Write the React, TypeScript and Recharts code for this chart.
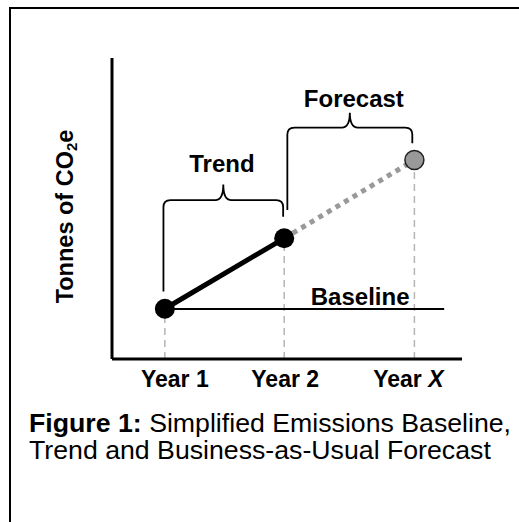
import {
  ComposedChart,
  Line,
  XAxis,
  YAxis,
  Scatter,
  ReferenceArea,
  ReferenceDot,
} from 'recharts';

// x positions of the three years and emissions level at each (0-100 schematic scale)
const years = ['Year 1', 'Year 2', 'Year X'];
const yearPos = [15.1, 49.2, 86.4];
const emissions = [16.7, 40.1, 66.1];
const baselineLevel = 16.6;
const baselineEnd = 94.9;

const braces = [
  { name: 'Trend', from: 14.7, to: 48.9, bar: 52.8, tip: 58.0, leftLeg: 22.4, rightLeg: 47.3 },
  { name: 'Forecast', from: 50.1, to: 85.8, bar: 76.9, tip: 81.8, leftLeg: 49.5, rightLeg: 71.7 },
];

const notes = [
  { text: 'Trend', x: 31.4, y: 62.1 },
  { text: 'Forecast', x: 69.1, y: 83.7 },
  { text: 'Baseline', x: 70.9, y: 17.9 },
];

const captionLines = ['Simplified Emissions Baseline,', 'Trend and Business-as-Usual Forecast'];

const points = years.map((name, i) => ({ name, x: yearPos[i], y: emissions[i], projected: i === 2 }));
const trendData = points.slice(0, 2);
const forecastData = points.slice(1, 3);
const baselineData = [
  { x: yearPos[0], y: baselineLevel },
  { x: baselineEnd, y: baselineLevel },
];
const guides = points.map((p) => [
  { x: p.x, y: 0 },
  { x: p.x, y: p.y },
]);

const FONT = '"Liberation Sans", Arial, sans-serif';
const tickNudge = [10, 1, -6];

function YearTick(props: any) {
  const { x, y, index } = props;
  const label = years[index] ?? '';
  const isX = label.endsWith('X');
  return (
    <text
      x={x + (tickNudge[index] ?? 0)}
      y={y + 20}
      textAnchor="middle"
      fontFamily={FONT}
      fontWeight="bold"
      fontSize={23}
      fill="#000"
    >
      {isX ? (
        <>
          <tspan>Year </tspan>
          <tspan fontStyle="italic">X</tspan>
        </>
      ) : (
        label
      )}
    </text>
  );
}

function YLabel(props: any) {
  const { viewBox } = props;
  const cx = viewBox.x + 21;
  const cy = viewBox.y + viewBox.height / 2 + 8;
  return (
    <text
      x={cx}
      y={cy}
      transform={`rotate(-90 ${cx} ${cy})`}
      textAnchor="middle"
      fontFamily={FONT}
      fontWeight="bold"
      fontSize={23.5}
      fill="#000"
    >
      <tspan>Tonnes of CO</tspan>
      <tspan fontSize={15} dy={4}>2</tspan>
      <tspan dy={-4}>e</tspan>
    </text>
  );
}

function braceShape(b: (typeof braces)[number]) {
  return (p: any) => {
    const { x, y, width, height } = p;
    const k = height / (b.tip - b.bar);
    const L = x;
    const R = x + width;
    const T = y + height;
    const P = y;
    const M = (L + R) / 2;
    const yl = T + (b.bar - b.leftLeg) * k;
    const yr = T + (b.bar - b.rightLeg) * k;
    const r = 7;
    const d = `M ${L} ${yl} L ${L} ${T + r} Q ${L} ${T} ${L + r} ${T} L ${M - 8} ${T} Q ${M} ${T} ${M} ${P} Q ${M} ${T} ${M + 8} ${T} L ${R - r} ${T} Q ${R} ${T} ${R} ${T + r} L ${R} ${yr}`;
    return <path d={d} fill="none" stroke="#000" strokeWidth={1.8} />;
  };
}

function noteShape(text: string) {
  return (p: any) => (
    <text
      x={p.cx}
      y={p.cy}
      textAnchor="middle"
      fontFamily={FONT}
      fontWeight="bold"
      fontSize={24}
      fill="#000"
    >
      {text}
    </text>
  );
}

function Dot(props: any) {
  const { cx, cy, payload } = props;
  return payload.projected ? (
    <circle cx={cx} cy={cy} r={9.5} fill="#999" stroke="#222" strokeWidth={1.5} />
  ) : (
    <circle cx={cx} cy={cy} r={10} fill="#000" />
  );
}

const captionStyle = {
  fontFamily: FONT,
  fontSize: 26.7,
  lineHeight: '26.5px',
  height: 26.5,
  whiteSpace: 'nowrap' as const,
  color: '#000',
};

export default function App() {
  return (
    <div
      style={{
        position: 'absolute',
        left: 0,
        top: 0,
        width: 519,
        height: 522,
        overflow: 'hidden',
        background: '#fff',
      }}
    >
      <div
        style={{
          position: 'absolute',
          left: 9,
          top: 7,
          width: 700,
          height: 700,
          borderTop: '2px solid #000',
          borderLeft: '2px solid #000',
        }}
      />
      <div style={{ position: 'absolute', left: 0, top: 0 }}>
        <ComposedChart width={519} height={522} margin={{ top: 58, right: 57, bottom: 133, left: 52 }}>
          <XAxis
            type="number"
            dataKey="x"
            domain={[0, 100]}
            ticks={yearPos}
            tick={<YearTick />}
            tickLine={false}
            axisLine={{ stroke: '#000', strokeWidth: 3 }}
            height={30}
            allowDataOverflow
          />
          <YAxis
            type="number"
            dataKey="y"
            domain={[0, 100]}
            tick={false}
            tickLine={false}
            axisLine={{ stroke: '#000', strokeWidth: 3 }}
            width={60}
            label={{ content: <YLabel /> }}
            allowDataOverflow
          />
          {guides.map((g, i) => (
            <Line
              key={'g' + i}
              data={g}
              dataKey="y"
              stroke="#b5b5b5"
              strokeWidth={1.5}
              strokeDasharray="7 5"
              dot={false}
              activeDot={false}
              isAnimationActive={false}
            />
          ))}
          <Line
            data={baselineData}
            dataKey="y"
            stroke="#000"
            strokeWidth={2}
            dot={false}
            activeDot={false}
            isAnimationActive={false}
          />
          <Line
            data={forecastData}
            dataKey="y"
            stroke="#999"
            strokeWidth={5}
            strokeDasharray="5 5"
            dot={false}
            activeDot={false}
            isAnimationActive={false}
          />
          <Line
            data={trendData}
            dataKey="y"
            stroke="#000"
            strokeWidth={5}
            dot={false}
            activeDot={false}
            isAnimationActive={false}
          />
          <Scatter data={points} dataKey="y" shape={<Dot />} isAnimationActive={false} />
          {braces.map((b) => (
            <ReferenceArea
              key={b.name}
              x1={b.from}
              x2={b.to}
              y1={b.bar}
              y2={b.tip}
              shape={braceShape(b)}
            />
          ))}
          {notes.map((n) => (
            <ReferenceDot key={n.text} x={n.x} y={n.y} r={0} shape={noteShape(n.text)} />
          ))}
        </ComposedChart>
      </div>
      <div style={{ position: 'absolute', left: 29, top: 410 }}>
        <div style={captionStyle}>
          <b>Figure 1:</b> {captionLines[0]}
        </div>
        <div style={captionStyle}>{captionLines[1]}</div>
      </div>
    </div>
  );
}
